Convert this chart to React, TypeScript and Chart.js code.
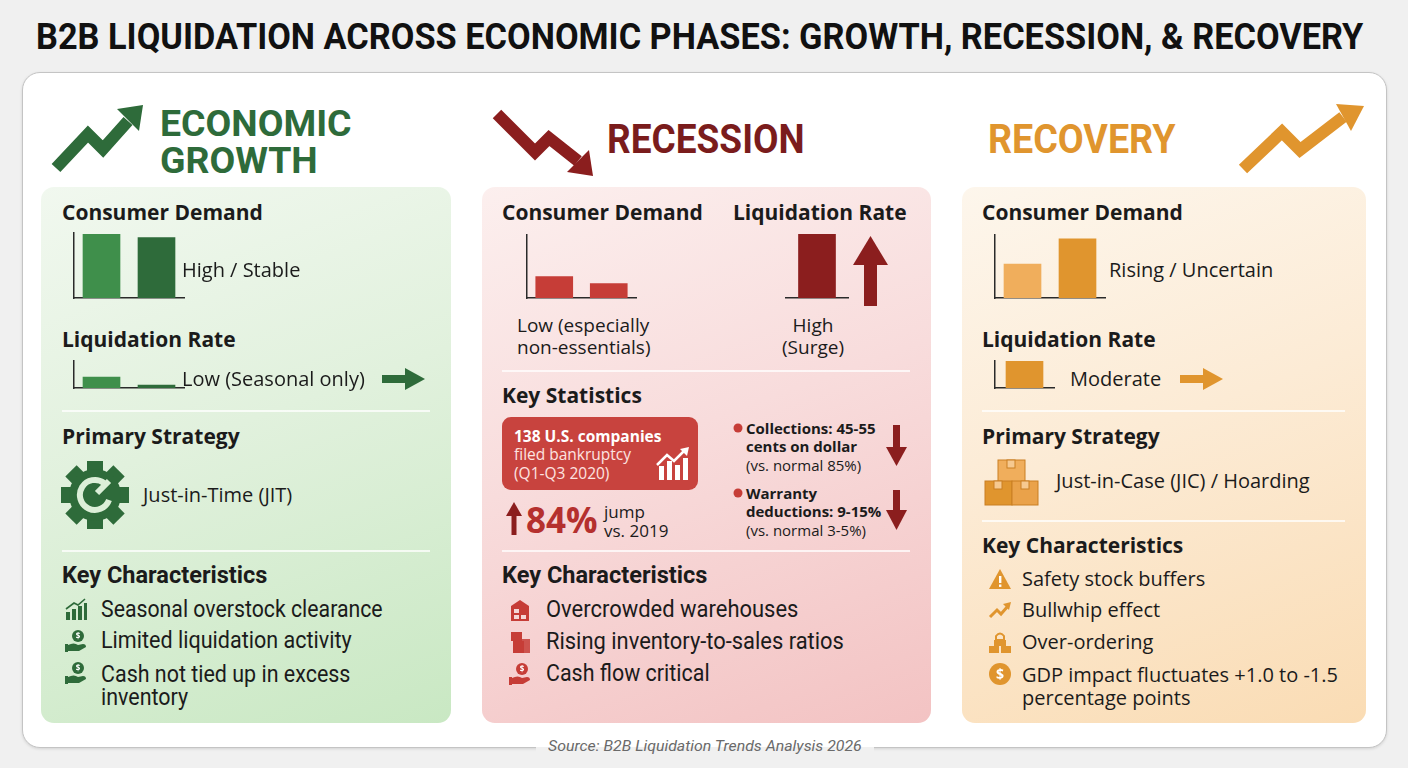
import React, { useEffect, useLayoutEffect, useRef, useState } from "react";
import { Chart, registerables } from "chart.js";

Chart.register(...registerables);

// two periods per phase, relative level (0-100)
const periods = ["Earlier", "Later"];
const single = ["Current"];

const growthDemand = [98, 93];
const growthLiquidation = [40, 11];
const recessionDemand = [34, 23];
const recessionLiquidation = [100];
const recoveryDemand = [54, 94];
const recoveryLiquidation = [100];

const growthTraits = ["Seasonal overstock clearance", "Limited liquidation activity", "Cash not tied up in excess\ninventory"];
const recessionTraits = ["Overcrowded warehouses", "Rising inventory-to-sales ratios", "Cash flow critical"];
const recoveryTraits = ["Safety stock buffers", "Bullwhip effect", "Over-ordering", "GDP impact fluctuates +1.0 to -1.5\npercentage points"];

const BODY = '"Open Sans", "Noto Sans", sans-serif';
const NARROW = 'Roboto, "Liberation Sans", sans-serif';

const GREEN = "#2e6b3a";
const GREEN_L = "#3f8f4b";
const RED = "#8b1e1e";
const RED_M = "#c63d37";
const ORANGE = "#e0952e";
const ORANGE_L = "#f0ae5c";

interface MiniProps {
  left: number;
  top: number;
  width: number;
  height: number;
  labels: string[];
  values: number[];
  colors: string[];
  showY?: boolean;
}

const PAD = 3;

function MiniBars(props: MiniProps): React.ReactElement {
  const canvasRef = useRef<HTMLCanvasElement | null>(null);

  useEffect(() => {
    if (!canvasRef.current) return;
    const chart = new Chart(canvasRef.current, {
      type: "bar",
      data: {
        labels: props.labels,
        datasets: [
          {
            data: props.values,
            backgroundColor: props.colors,
            barThickness: 37,
            borderWidth: 0,
          },
        ],
      },
      options: {
        responsive: true,
        maintainAspectRatio: false,
        animation: false,
        layout: { padding: PAD },
        plugins: { legend: { display: false }, tooltip: { enabled: false } },
        scales: {
          x: {
            grid: { display: false },
            ticks: { display: false },
            border: { display: true, color: "#2a2a2a", width: 1.5 },
          },
          y: {
            min: 0,
            max: 100,
            grid: { display: false },
            ticks: { display: false },
            border: { display: props.showY !== false, color: "#2a2a2a", width: 1.5 },
          },
        },
      },
    });
    return () => chart.destroy();
  }, [props.labels, props.values, props.colors, props.showY]);

  return (
    <div
      style={{
        position: "absolute",
        left: props.left - PAD,
        top: props.top - PAD,
        width: props.width + PAD * 2,
        height: props.height + PAD * 2,
      }}
    >
      <canvas ref={canvasRef} />
    </div>
  );
}

interface TxtProps {
  x: number;
  y: number; // centre of the first line
  s: number;
  w?: number;
  c?: string;
  f?: string;
  center?: boolean;
  italic?: boolean;
  lh?: number;
  fit?: number; // squeeze/stretch horizontally to this width
  children: React.ReactNode;
}

function Txt(p: TxtProps): React.ReactElement {
  const ref = useRef<HTMLDivElement | null>(null);
  const [sx, setSx] = useState(1);
  const lh = p.lh ?? Math.round(p.s * 1.2);

  useLayoutEffect(() => {
    if (!p.fit || !ref.current) return;
    const el = ref.current;
    const measure = () => {
      const natural = el.offsetWidth;
      if (natural > 0) setSx(p.fit! / natural);
    };
    measure();
    document.fonts?.ready.then(measure);
  }, [p.fit, p.s, p.f]);

  let left = p.x;
  let transform: string | undefined;
  if (p.fit) {
    if (p.center) left = p.x - p.fit / 2;
    transform = `scaleX(${sx})`;
  } else if (p.center) {
    transform = "translateX(-50%)";
  }

  return (
    <div
      ref={ref}
      style={{
        position: "absolute",
        left,
        top: p.y - lh / 2,
        transform,
        transformOrigin: "left center",
        textAlign: p.center ? "center" : "left",
        fontSize: p.s,
        lineHeight: `${lh}px`,
        fontWeight: p.w ?? 400,
        color: p.c ?? "#1b1b1b",
        fontFamily: p.f ?? BODY,
        fontStyle: p.italic ? "italic" : "normal",
        whiteSpace: "pre",
      }}
    >
      {p.children}
    </div>
  );
}

function Divider({ x, y, w }: { x: number; y: number; w: number }): React.ReactElement {
  return <div style={{ position: "absolute", left: x, top: y, width: w, height: 2, background: "rgba(255,255,255,0.75)" }} />;
}

function Panel({ x, w, bg }: { x: number; w: number; bg: string }): React.ReactElement {
  return <div style={{ position: "absolute", left: x, top: 187, width: w, height: 536, borderRadius: 13, background: bg }} />;
}

function Icon({ kind, x, y, c }: { kind: string; x: number; y: number; c: string }): React.ReactElement {
  // x,y = centre of a ~22px icon
  const t = `translate(${x - 11},${y - 11})`;
  if (kind === "bars")
    return (
      <g transform={t} fill={c}>
        <rect x="1" y="14" width="4" height="8" />
        <rect x="7" y="11" width="4" height="11" />
        <rect x="13" y="8" width="4" height="14" />
        <rect x="19" y="5" width="3" height="17" />
        <path d="M1 11 L9 5 L13 7 L20 1" stroke={c} strokeWidth="1.6" fill="none" />
      </g>
    );
  if (kind === "hand")
    return (
      <g transform={t} fill={c}>
        <circle cx="13" cy="6" r="6" />
        <text x="13" y="9" fontSize="8" fill="#fff" textAnchor="middle" fontFamily={BODY} fontWeight="700">$</text>
        <path d="M3 15 Q9 12 13 15 L18 14 Q21 14 21 17 L14 21 L3 21 Z" />
        <rect x="0" y="14" width="3" height="8" />
      </g>
    );
  if (kind === "warehouse")
    return (
      <g transform={t} fill={c}>
        <path d="M2 7 L11 1 L20 7 L20 22 L2 22 Z" />
        <rect x="5" y="10" width="5" height="4" fill="#fff" opacity="0.8" />
        <rect x="5" y="16" width="5" height="4" fill="#fff" opacity="0.8" />
        <rect x="12" y="16" width="5" height="4" fill="#fff" opacity="0.8" />
      </g>
    );
  if (kind === "boxes")
    return (
      <g transform={t} fill={c}>
        <rect x="2" y="1" width="11" height="9" />
        <rect x="4" y="10" width="11" height="12" />
        <rect x="13" y="8" width="8" height="14" opacity="0.85" />
      </g>
    );
  if (kind === "warn")
    return (
      <g transform={t}>
        <path d="M11 1 L22 21 L0 21 Z" fill={c} />
        <rect x="10" y="8" width="2.4" height="7" fill="#fff" />
        <rect x="10" y="16.5" width="2.4" height="2.4" fill="#fff" />
      </g>
    );
  if (kind === "trend")
    return (
      <g transform={t}>
        <path d="M1 18 L8 11 L12 15 L19 7" stroke={c} strokeWidth="3" fill="none" />
        <path d="M14 5 L22 3 L20 11 Z" fill={c} />
      </g>
    );
  if (kind === "pile")
    return (
      <g transform={t} fill={c}>
        <path d="M7 9 L7 5 Q11 0 15 5 L15 9 Z" fill="none" stroke={c} strokeWidth="2" />
        <rect x="5" y="9" width="12" height="6" />
        <rect x="0" y="15" width="10" height="7" />
        <rect x="12" y="15" width="10" height="7" />
      </g>
    );
  // coin
  return (
    <g transform={t}>
      <circle cx="11" cy="11" r="11" fill={c} />
      <text x="11" y="16" fontSize="14" fill="#fff" textAnchor="middle" fontFamily={BODY} fontWeight="700">$</text>
    </g>
  );
}

function Gear({ cx, cy }: { cx: number; cy: number }): React.ReactElement {
  const teeth = [0, 45, 90, 135, 180, 225, 270, 315];
  return (
    <g>
      {teeth.map((a) => (
        <rect key={a} x={cx - 8} y={cy - 34} width="16" height="16" fill={GREEN} transform={`rotate(${a} ${cx} ${cy})`} />
      ))}
      <circle cx={cx} cy={cy} r="26" fill={GREEN} />
      <path d={`M${cx + 9} ${cy - 12} A15 15 0 1 0 ${cx + 14} ${cy + 5}`} stroke="#dcefd8" strokeWidth="6" fill="none" />
      <path d={`M${cx + 2} ${cy - 2} L${cx + 14} ${cy - 14}`} stroke="#dcefd8" strokeWidth="6" />
    </g>
  );
}

function Decorations(): React.ReactElement {
  return (
    <svg width="1408" height="768" style={{ position: "absolute", left: 0, top: 0, pointerEvents: "none" }}>
      {/* phase arrows */}
      <polyline points="56,168 88,134 103,149 128,121" stroke={GREEN} strokeWidth="12" fill="none" strokeLinejoin="miter" />
      <polygon points="143,105 139,131 117,109" fill={GREEN} />
      <polyline points="497,114 535,152 549,138 578,161" stroke={RED} strokeWidth="12" fill="none" strokeLinejoin="miter" />
      <polygon points="593,176 589,150 567,172" fill={RED} />
      <polyline points="1243,169 1282,132 1300,150 1343,117" stroke={ORANGE} strokeWidth="12" fill="none" strokeLinejoin="miter" />
      <polygon points="1364,106 1351,131 1336,104" fill={ORANGE} />

      {/* trend arrows beside charts */}
      <rect x="382" y="375" width="26" height="8" fill={GREEN} />
      <polygon points="405,368 425,379 405,390" fill={GREEN} />
      <rect x="1180" y="375" width="26" height="8" fill={ORANGE} />
      <polygon points="1203,368 1223,379 1203,390" fill={ORANGE} />
      <rect x="864" y="262" width="13" height="44" fill={RED} />
      <polygon points="853,265 870.5,236 888,265" fill={RED} />
      <rect x="893" y="425" width="7" height="25" fill={RED} />
      <polygon points="886,447 896.5,466 907,447" fill={RED} />
      <rect x="893" y="490" width="7" height="22" fill={RED} />
      <polygon points="886,510 896.5,530 907,510" fill={RED} />
      <rect x="511.5" y="512" width="5" height="23" fill={RED} />
      <polygon points="506,516 514,502 522,516" fill={RED} />

      {/* bullets in statistics */}
      <circle cx="738" cy="428" r="4.5" fill={RED_M} />
      <circle cx="738" cy="493" r="4.5" fill={RED_M} />

      {/* chart icon in bankruptcy box */}
      <g fill="#fff">
        <rect x="659" y="466" width="5" height="14" />
        <rect x="667" y="461" width="5" height="19" />
        <rect x="675" y="465" width="5" height="15" />
        <rect x="683" y="458" width="5" height="22" />
        <path d="M657 465 L667 455 L674 461 L684 451" stroke="#fff" strokeWidth="2.5" fill="none" />
        <polygon points="680,449 689,447 687,456" />
      </g>

      <Gear cx={95} cy={495} />

      {/* stacked boxes */}
      <g stroke="#c97f22" strokeWidth="1">
        <rect x="998" y="460" width="27" height="22" fill="#f0ae5c" />
        <rect x="985" y="481" width="27" height="24" fill={ORANGE} />
        <rect x="1012" y="481" width="26" height="24" fill="#eaa24a" />
        <rect x="1007" y="460" width="8" height="8" fill="#f6c990" />
        <rect x="994" y="481" width="8" height="8" fill="#f6c990" />
        <rect x="1021" y="481" width="8" height="8" fill="#f6c990" />
      </g>

      {growthTraits.map((_, i) => (
        <Icon key={"g" + i} kind={i === 0 ? "bars" : "hand"} x={76} y={[609, 641, 673][i]} c={GREEN} />
      ))}
      {recessionTraits.map((_, i) => (
        <Icon key={"r" + i} kind={["warehouse", "boxes", "hand"][i]} x={520} y={[610, 642, 674][i]} c={RED_M} />
      ))}
      {recoveryTraits.map((_, i) => (
        <Icon key={"o" + i} kind={["warn", "trend", "pile", "coin"][i]} x={1000} y={[579, 610, 642, 674][i]} c={ORANGE} />
      ))}
    </svg>
  );
}

export default function App(): React.ReactElement {
  return (
    <div
      style={{
        position: "absolute",
        left: 0,
        top: 0,
        width: 1408,
        height: 768,
        background: "#f0f0f0",
        overflow: "hidden",
        fontFamily: BODY,
      }}
    >
      <Txt x={699} y={37} s={36} w={700} c="#111" f={NARROW} center fit={1327}>
        B2B LIQUIDATION ACROSS ECONOMIC PHASES: GROWTH, RECESSION, &amp; RECOVERY
      </Txt>

      <div
        style={{
          position: "absolute",
          left: 22,
          top: 72,
          width: 1363,
          height: 674,
          background: "#fff",
          border: "1.5px solid #c4c4c4",
          borderRadius: 18,
          boxShadow: "0 1px 3px rgba(0,0,0,0.12)",
        }}
      />
      <div
        style={{
          position: "absolute",
          left: 536,
          top: 736,
          width: 338,
          height: 22,
          background: "linear-gradient(#fff 0 50%, #f0f0f0 50% 100%)",
        }}
      />
      <Txt x={705} y={746} s={14} c="#6a6a6a" italic center f={NARROW} fit={314}>
        Source: B2B Liquidation Trends Analysis 2026
      </Txt>

      {/* phase headings */}
      <Txt x={160} y={123} s={37} w={700} c={GREEN} f={NARROW} lh={37} fit={192}>
        {"ECONOMIC\nGROWTH"}
      </Txt>
      <Txt x={607} y={140} s={40} w={700} c="#7a1c1c" f={NARROW} lh={40} fit={198}>
        RECESSION
      </Txt>
      <Txt x={988} y={140} s={40} w={700} c={ORANGE} f={NARROW} lh={40} fit={188}>
        RECOVERY
      </Txt>

      <Panel x={41} w={410} bg="linear-gradient(160deg, #f1f8ef 0%, #e1f1dd 45%, #c9e8c3 100%)" />
      <Panel x={482} w={449} bg="linear-gradient(160deg, #fcefee 0%, #f8dcdc 45%, #f3c3c3 100%)" />
      <Panel x={962} w={404} bg="linear-gradient(160deg, #fdf6ec 0%, #fcebd5 45%, #fadcb4 100%)" />

      {/* ---------- growth ---------- */}
      <Txt x={62} y={212} s={21} w={700}>Consumer Demand</Txt>
      <MiniBars left={66} top={233} width={118} height={73} labels={periods} values={growthDemand} colors={[GREEN_L, GREEN]} />
      <Txt x={182} y={270} s={20}>High / Stable</Txt>
      <Txt x={62} y={339} s={21} w={700}>Liquidation Rate</Txt>
      <MiniBars left={66} top={361} width={118} height={35} labels={periods} values={growthLiquidation} colors={[GREEN_L, GREEN]} />
      <Txt x={182} y={379} s={20}>Low (Seasonal only)</Txt>
      <Divider x={62} y={410} w={368} />
      <Txt x={62} y={436} s={21} w={700}>Primary Strategy</Txt>
      <Txt x={143} y={495} s={20}>Just-in-Time (JIT)</Txt>
      <Divider x={62} y={550} w={368} />
      <Txt x={62} y={575} s={24} w={700} f={NARROW} fit={205}>Key Characteristics</Txt>
      <Txt x={101} y={610} s={23} f={NARROW} fit={282}>{growthTraits[0]}</Txt>
      <Txt x={101} y={641} s={23} f={NARROW} fit={251}>{growthTraits[1]}</Txt>
      <Txt x={101} y={674} s={23} f={NARROW} lh={23} fit={249}>{growthTraits[2]}</Txt>

      {/* ---------- recession ---------- */}
      <Txt x={502} y={212} s={21} w={700}>Consumer Demand</Txt>
      <Txt x={733} y={212} s={21} w={700}>Liquidation Rate</Txt>
      <MiniBars left={519} top={235} width={117} height={71} labels={periods} values={recessionDemand} colors={[RED_M, RED_M]} />
      <Txt x={517} y={325} s={19} lh={22}>{"Low (especially\nnon-essentials)"}</Txt>
      <MiniBars left={778} top={234} width={70} height={72} labels={single} values={recessionLiquidation} colors={[RED]} showY={false} />
      <Txt x={813} y={325} s={19} lh={22} center>{"High\n(Surge)"}</Txt>
      <Divider x={502} y={370} w={408} />
      <Txt x={502} y={395} s={21} w={700}>Key Statistics</Txt>
      <div style={{ position: "absolute", left: 502, top: 417, width: 196, height: 73, borderRadius: 9, background: "#c8433e" }} />
      <Txt x={514} y={436} s={15.5} c="#fde3e1" lh={18.5}>
        <span style={{ fontWeight: 700, color: "#fff" }}>138 U.S. companies</span>
        {"\nfiled bankruptcy\n(Q1-Q3 2020)"}
      </Txt>
      <Txt x={526} y={520} s={35} w={700} c="#b5302e">84%</Txt>
      <Txt x={604} y={511} s={17} lh={19}>{"jump\nvs. 2019"}</Txt>
      <Txt x={746} y={428} s={15} lh={18.5}>
        <b>{"Collections: 45-55\ncents on dollar"}</b>
        {"\n(vs. normal 85%)"}
      </Txt>
      <Txt x={746} y={493} s={15} lh={18.5}>
        <b>{"Warranty\ndeductions: 9-15%"}</b>
        {"\n(vs. normal 3-5%)"}
      </Txt>
      <Divider x={502} y={550} w={408} />
      <Txt x={502} y={575} s={24} w={700} f={NARROW} fit={205}>Key Characteristics</Txt>
      <Txt x={546} y={610} s={23} f={NARROW} fit={252}>{recessionTraits[0]}</Txt>
      <Txt x={546} y={642} s={23} f={NARROW} fit={298}>{recessionTraits[1]}</Txt>
      <Txt x={546} y={674} s={23} f={NARROW} fit={164}>{recessionTraits[2]}</Txt>

      {/* ---------- recovery ---------- */}
      <Txt x={982} y={212} s={21} w={700}>Consumer Demand</Txt>
      <MiniBars left={987} top={235} width={118} height={71} labels={periods} values={recoveryDemand} colors={[ORANGE_L, ORANGE]} />
      <Txt x={1109} y={270} s={20}>Rising / Uncertain</Txt>
      <Txt x={982} y={339} s={21} w={700}>Liquidation Rate</Txt>
      <MiniBars left={987} top={361} width={67} height={35} labels={single} values={recoveryLiquidation} colors={[ORANGE]} />
      <Txt x={1070} y={379} s={20}>Moderate</Txt>
      <Divider x={982} y={410} w={363} />
      <Txt x={982} y={436} s={21} w={700}>Primary Strategy</Txt>
      <Txt x={1056} y={481} s={20}>Just-in-Case (JIC) / Hoarding</Txt>
      <Divider x={982} y={520} w={363} />
      <Txt x={982} y={545} s={21} w={700}>Key Characteristics</Txt>
      <Txt x={1022} y={579} s={20}>{recoveryTraits[0]}</Txt>
      <Txt x={1022} y={610} s={20}>{recoveryTraits[1]}</Txt>
      <Txt x={1022} y={642} s={20}>{recoveryTraits[2]}</Txt>
      <Txt x={1022} y={674} s={20} lh={23}>{recoveryTraits[3]}</Txt>

      <Decorations />
    </div>
  );
}
